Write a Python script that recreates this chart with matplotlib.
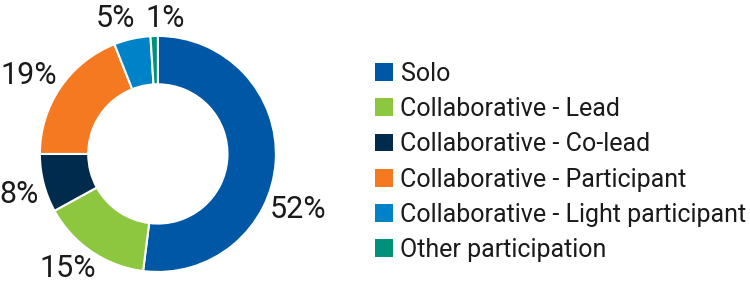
import numpy as np
import matplotlib.pyplot as plt
from matplotlib.patches import Patch

categories = ['Solo', 'Collaborative - Lead', 'Collaborative - Co-lead',
              'Collaborative - Participant', 'Collaborative - Light participant',
              'Other participation']
shares = [52, 15, 8, 19, 5, 1]
colors = ['#0057A6', '#8DC63F', '#002B4D', '#F47920', '#0082C8', '#00917A']

# label placement tweaks (angle offset in degrees, radial distance)
label_offsets = [-18, -4, 2, 3, 5, -5]
label_dist = [1.28, 1.24, 1.23, 1.28, 1.2, 1.15]

plt.rcParams['font.family'] = ['Roboto', 'DejaVu Sans']

fig = plt.figure(figsize=(7.5, 2.83), dpi=100)
ax = fig.add_axes([0.053, 0.039, 0.315, 0.834])

wedges, _ = ax.pie(shares, colors=colors, startangle=90, counterclock=False,
                   wedgeprops=dict(width=0.41, edgecolor='white', linewidth=1.5))
ax.set_xlim(-1, 1)
ax.set_ylim(-1, 1)
ax.set_aspect('equal')

for w, val, off, d in zip(wedges, shares, label_offsets, label_dist):
    mid = np.deg2rad((w.theta1 + w.theta2) / 2 + off)
    ax.text(d * np.cos(mid), d * np.sin(mid), f'{val}%', ha='center', va='center',
            fontsize=22, color='#1a1a1a', clip_on=False)

handles = [Patch(facecolor=c, edgecolor='none') for c in colors]
fig.legend(handles, categories, loc='center left', bbox_to_anchor=(0.5, 0.428),
           frameon=False, fontsize=18, handlelength=0.72, handleheight=0.72,
           handletextpad=0.3, labelspacing=0.45, borderaxespad=0, borderpad=0,
           labelcolor='#1a1a1a')

fig.savefig('out.png', dpi=100)
